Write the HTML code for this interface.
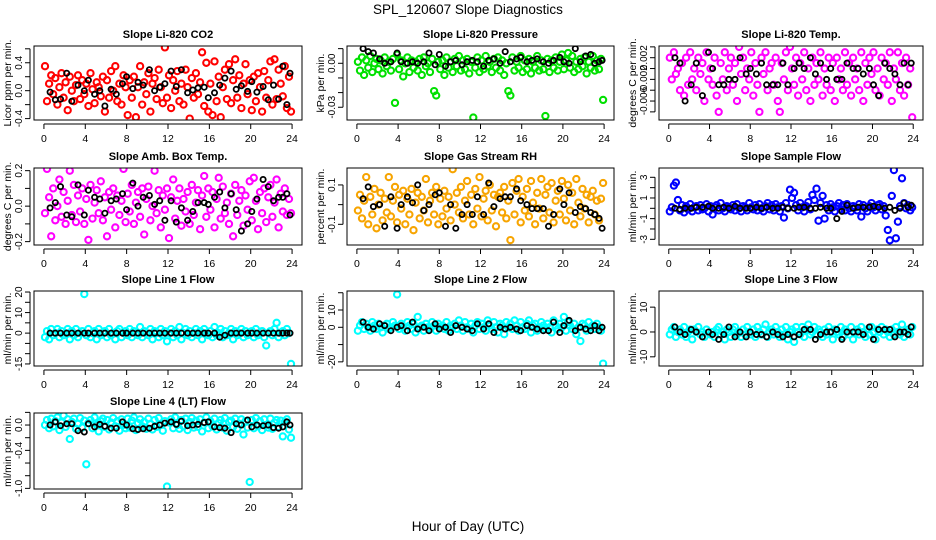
<!DOCTYPE html>
<html><head><meta charset="utf-8">
<style>
html,body{margin:0;padding:0;background:#fff;}
svg{display:block;font-family:"Liberation Sans",Arial,sans-serif;}
</style></head>
<body>
<svg id="chart" width="936" height="540" viewBox="0 0 936 540" xmlns="http://www.w3.org/2000/svg">
<rect width="936" height="540" fill="#fff"/>
<text x="468" y="14" text-anchor="middle" font-size="13.5">SPL_120607  Slope Diagnostics</text>
<text x="468" y="531" text-anchor="middle" font-size="13.5">Hour of Day (UTC)</text>
<g id="panels"></g>
</svg>
<script>
// shared hours for coloured series
const hours = [0.1,0.3,0.5,0.7,0.9,1.1,1.3,1.5,1.7,1.9,2.1,2.3,2.5,2.7,2.9,3.1,3.3,3.5,3.7,3.9,4.1,4.3,4.5,4.7,4.9,5.1,5.3,5.5,5.7,5.9,6.1,6.3,6.5,6.7,6.9,7.1,7.3,7.5,7.7,7.9,8.1,8.3,8.5,8.7,8.9,9.1,9.3,9.5,9.7,9.9,10.1,10.3,10.5,10.7,10.9,11.1,11.3,11.5,11.7,11.9,12.1,12.3,12.5,12.7,12.9,13.1,13.3,13.5,13.7,13.9,14.1,14.3,14.5,14.7,14.9,15.1,15.3,15.5,15.7,15.9,16.1,16.3,16.5,16.7,16.9,17.1,17.3,17.5,17.7,17.9,18.1,18.3,18.5,18.7,18.9,19.1,19.3,19.5,19.7,19.9,20.1,20.3,20.5,20.7,20.9,21.1,21.3,21.5,21.7,21.9,22.1,22.3,22.5,22.7,22.9,23.1,23.3,23.5,23.7,23.9];
// shared hours for black (reference) series
const blackHours = [0.6,1.1,1.6,2.2,2.7,3.3,3.9,4.3,4.9,5.4,5.9,6.5,7.0,7.6,8.0,8.6,9.1,9.6,10.2,10.7,11.2,11.7,12.3,12.8,13.3,13.9,14.4,14.9,15.5,15.9,16.5,17.0,17.5,18.1,18.6,19.1,19.7,20.1,20.6,21.2,21.7,22.2,22.7,23.1,23.5,23.8];
const xTicks = [0,4,8,12,16,20,24];

const co2 = [0.35,-0.15,0.1,0.22,-0.05,0.18,-0.2,0.05,0.25,-0.1,0.12,-0.28,0.2,0.0,-0.15,0.08,0.22,-0.12,0.15,-0.05,0.1,-0.22,0.25,0.02,-0.18,0.12,0.05,-0.08,0.2,-0.3,0.15,-0.1,0.28,0.0,0.35,-0.15,0.1,-0.2,0.22,0.05,-0.35,0.15,-0.1,0.2,-0.38,0.05,0.35,-0.2,0.12,-0.05,0.25,-0.3,0.1,0.18,-0.12,0.3,0.05,-0.18,0.62,-0.1,0.22,-0.25,0.15,0.0,0.28,-0.15,0.1,-0.2,0.3,0.05,-0.4,0.18,-0.1,0.25,-0.05,0.12,0.55,-0.22,0.4,-0.3,0.1,-0.35,0.42,-0.15,0.2,-0.38,0.05,0.3,-0.12,0.38,-0.18,0.15,0.45,-0.1,0.22,-0.25,0.1,0.38,-0.05,0.15,-0.28,0.2,-0.15,0.25,0.05,-0.3,0.28,-0.1,0.15,0.42,-0.2,0.45,-0.12,0.3,0.1,-0.08,0.35,-0.25,0.2,-0.3];
const co2Ref = [-0.02,-0.13,-0.12,0.25,-0.15,0.08,0.0,0.15,-0.05,0.0,-0.22,0.02,-0.05,0.1,0.2,0.03,0.12,0.08,0.3,0.0,0.05,0.1,0.28,0.06,0.3,-0.03,0.01,0.04,0.05,-0.1,-0.03,0.08,0.18,0.28,0.02,0.07,-0.01,0.13,-0.02,0.06,-0.13,0.08,-0.12,0.35,-0.2,0.25];

const pres = [0.001,-0.005,0.004,-0.008,0.002,-0.003,0.005,-0.006,0.0,0.003,-0.004,0.002,-0.007,0.004,-0.002,0.001,-0.005,0.003,-0.027,0.006,-0.004,0.002,-0.009,0.0,0.004,-0.006,0.002,-0.003,0.001,-0.005,0.003,-0.008,0.004,-0.002,0.0,-0.006,0.003,-0.019,-0.022,0.001,-0.004,0.002,-0.008,0.004,-0.003,0.001,-0.006,0.003,-0.002,0.005,-0.005,0.002,-0.004,0.003,-0.007,0.001,-0.037,-0.003,0.004,-0.006,0.002,-0.004,0.005,-0.002,0.001,-0.006,0.003,-0.003,0.004,-0.005,0.002,-0.008,0.0,-0.019,-0.022,0.004,-0.005,0.001,-0.003,0.005,-0.006,0.002,-0.004,0.003,-0.007,0.001,-0.003,0.005,-0.005,0.002,-0.004,-0.036,0.003,-0.006,0.002,-0.003,0.004,-0.005,0.001,0.006,-0.004,0.002,0.007,-0.003,0.005,-0.006,0.001,-0.004,0.003,-0.002,0.004,-0.007,0.001,-0.003,0.005,-0.005,0.002,-0.004,0.003,-0.025];
const presRef = [0.01,0.008,0.007,0.003,0.0,0.001,0.007,0.001,0.0,0.001,0.0,0.001,0.007,-0.001,0.006,-0.002,0.001,0.002,-0.001,0.001,0.002,0.001,-0.002,0.002,0.003,0.0,0.008,0.001,0.003,0.004,0.001,0.002,0.003,0.001,0.0,0.002,0.004,0.001,0.0,0.01,0.001,0.005,0.006,0.0,0.001,0.002];

const temp = [0.002,-0.002,0.003,-0.001,0.0,-0.004,0.001,-0.005,0.002,-0.003,0.003,-0.002,0.0,-0.004,0.002,-0.001,0.001,-0.006,0.003,-0.002,0.0,-0.003,0.002,-0.005,-0.008,0.001,-0.002,0.003,-0.004,0.0,0.002,-0.003,0.001,-0.006,0.004,-0.001,0.002,-0.004,0.0,-0.002,0.003,-0.005,0.001,-0.003,-0.008,0.002,-0.001,0.003,-0.004,0.0,0.001,-0.003,0.002,-0.006,-0.008,0.001,-0.002,0.003,-0.004,0.004,0.0,-0.003,0.002,-0.005,0.001,-0.002,0.003,-0.004,0.0,-0.006,0.002,-0.003,0.001,-0.002,0.003,-0.005,0.0,-0.003,0.002,-0.004,0.001,-0.006,0.002,-0.002,0.0,-0.004,0.003,-0.003,0.001,-0.005,0.002,-0.002,0.0,-0.004,0.003,-0.006,0.001,-0.003,0.002,-0.001,0.003,-0.004,0.0,-0.005,0.002,-0.002,0.001,-0.003,0.003,-0.006,0.0,-0.002,0.003,-0.004,0.001,-0.005,0.002,-0.003,0.0,-0.009];
const tempRef = [0.002,0.001,-0.006,-0.003,0.001,-0.005,0.003,0.0,-0.003,-0.003,-0.002,-0.002,0.002,-0.001,0.0,-0.001,0.001,-0.003,-0.003,-0.003,0.001,-0.003,0.0,0.001,0.0,0.002,-0.001,0.001,-0.002,0.0,-0.002,-0.002,0.001,0.0,0.0,-0.001,0.0,-0.003,-0.005,0.001,0.0,-0.001,-0.003,0.001,-0.003,0.001];

const boxT = [-0.04,0.21,0.05,-0.17,0.1,-0.08,0.0,0.15,-0.06,0.08,-0.1,0.03,0.2,-0.05,0.12,-0.09,0.06,-0.03,0.1,-0.1,0.04,-0.19,0.12,-0.07,0.02,0.09,-0.04,0.14,-0.08,0.05,-0.17,0.08,-0.02,0.1,-0.12,0.06,-0.05,0.03,0.21,-0.09,0.07,-0.03,0.12,-0.1,0.02,0.08,-0.06,0.1,-0.16,0.04,0.11,-0.08,0.0,0.2,-0.04,0.09,-0.12,0.06,-0.02,0.1,-0.18,0.05,0.15,-0.07,0.03,0.1,-0.11,0.04,-0.03,0.08,-0.1,0.12,-0.05,0.02,0.09,-0.13,0.06,0.17,-0.06,0.1,-0.02,0.08,-0.12,0.04,0.16,-0.07,0.11,-0.04,0.02,-0.1,0.07,-0.17,0.12,-0.05,0.03,0.09,-0.11,0.06,-0.02,0.14,-0.08,0.16,0.03,-0.13,0.08,-0.04,0.1,-0.09,0.05,0.12,-0.06,0.02,0.15,-0.12,0.07,-0.03,0.1,-0.05,0.04,-0.04];
const boxTRef = [-0.01,0.02,0.11,-0.05,-0.06,0.12,-0.05,0.09,0.05,0.04,-0.04,0.03,0.04,0.07,-0.02,0.13,0.0,0.05,0.06,0.01,0.03,-0.08,0.03,-0.09,-0.01,-0.08,-0.03,0.02,0.02,0.01,0.05,0.08,-0.01,0.07,-0.02,-0.14,-0.1,-0.03,0.04,0.15,0.11,0.03,0.05,0.05,0.07,-0.05];

const rh = [-0.03,0.05,-0.07,0.02,0.14,-0.1,0.04,-0.05,0.08,-0.12,0.0,0.06,-0.08,0.03,-0.04,0.14,-0.06,0.02,0.09,-0.09,0.05,-0.02,0.07,-0.1,0.03,-0.05,0.08,-0.13,0.01,0.06,-0.07,0.04,-0.03,0.13,-0.09,0.02,0.06,-0.05,0.09,-0.1,0.03,-0.06,0.07,-0.02,0.04,-0.08,0.18,0.0,0.06,-0.04,0.09,-0.07,0.02,0.12,-0.05,0.05,-0.1,0.08,-0.02,0.14,-0.06,0.03,0.07,-0.08,0.1,-0.03,0.05,-0.11,0.04,0.06,-0.04,0.09,-0.07,0.02,-0.18,0.11,-0.05,0.07,0.13,-0.09,0.04,-0.03,0.08,-0.06,0.12,0.01,-0.1,0.06,-0.02,0.13,-0.07,0.05,0.09,-0.04,0.11,-0.09,0.02,0.07,-0.05,0.12,0.03,-0.08,0.1,-0.03,0.06,-0.1,0.13,0.01,-0.06,0.08,-0.02,0.05,-0.09,0.04,0.07,-0.05,0.02,-0.08,0.03,0.11];
const rhRef = [0.03,0.09,-0.01,0.0,-0.11,0.04,-0.12,0.0,0.04,0.01,0.1,-0.03,0.0,0.05,0.06,-0.11,0.0,-0.12,-0.05,0.0,-0.05,0.04,-0.05,0.11,-0.01,0.03,0.04,0.04,0.08,0.02,0.0,-0.02,-0.02,-0.02,-0.11,-0.05,0.08,0.0,0.06,-0.04,-0.01,-0.02,-0.04,-0.05,-0.07,-0.12];

const sflow = [-0.3,0.1,2.2,2.5,0.8,-0.2,0.3,-0.4,0.2,-0.1,0.4,-0.3,0.1,0.2,-0.2,0.3,-0.1,0.0,0.4,-0.3,0.2,-0.6,0.1,0.3,-0.2,0.5,0.0,-0.3,0.2,0.1,-0.1,0.3,-0.2,0.4,0.0,-0.3,0.2,0.1,-0.2,0.5,0.1,-0.1,0.3,-0.2,0.4,0.0,-0.3,0.2,0.5,-0.1,0.3,-0.2,0.4,0.1,-0.3,0.2,-0.9,0.5,0.0,1.8,1.0,1.5,0.3,-0.2,0.5,0.1,-0.3,0.2,0.6,-0.1,1.3,0.8,1.9,-1.2,0.5,1.2,-1.0,0.3,-0.2,0.4,0.1,-0.3,0.2,0.5,-0.1,0.3,-0.2,0.4,0.0,-0.3,0.2,0.1,-0.2,0.4,-0.8,0.3,0.0,-0.3,0.2,0.5,0.1,-0.2,0.3,0.4,-0.1,0.2,-0.7,-2.1,-3.1,1.2,3.7,-2.9,-1.3,0.2,2.9,0.5,0.0,0.3,-0.2,0.1];
const sflowRef = [0.0,-0.1,0.0,0.0,0.1,0.1,0.2,0.0,0.0,0.1,0.0,0.2,0.0,0.0,0.0,0.1,0.0,0.1,0.0,0.0,0.1,0.0,0.0,0.1,0.1,0.0,0.0,0.1,0.0,0.0,-1.0,-0.3,0.3,0.0,0.1,0.1,0.1,0.2,0.1,0.0,0.1,-0.2,0.0,0.5,0.1,0.3];

const l1 = [-2,1,-3,2,-1,0,2,-2,1,-1,0,2,-3,1,-1,2,-2,0,1,19,-1,2,-2,0,1,-3,2,-1,0,1,-2,2,-1,0,-3,1,2,-2,0,1,-1,2,-2,1,0,-1,3,-2,1,0,-1,2,-3,1,0,-2,2,-1,1,-4,0,2,-2,1,-1,3,-3,0,2,-1,1,-2,0,2,-1,1,-3,2,0,-1,1,-2,3,-1,0,2,-2,1,-1,0,2,-3,1,-1,0,2,-2,1,-1,0,1,-2,2,-1,0,1,-2,-6,0,1,-1,2,5,-2,0,1,-1,2,0,-15];
const l1Ref = [0,0,0,0,0,0,0,0,0,0,0,0,0,0,0,0,0,0,0,0,0,0,0,0,0,0,0,0,0,0,0,-2,-1,0,0,0,0,0,0,0,0,0,0,0,0,0];

const l2 = [-2,1,3,-1,2,0,-2,3,1,-1,2,0,-3,1,2,-1,0,3,1,19,-1,2,0,-2,3,1,-1,2,-3,6,0,1,-2,2,0,-1,3,1,-2,2,0,1,-1,3,-2,1,0,2,-1,4,1,-2,3,0,-1,2,-3,1,3,-1,2,0,-2,4,1,-1,3,0,-3,2,1,-4,3,0,2,-1,4,1,-2,3,0,-1,2,4,-3,1,2,-2,0,3,1,-1,2,0,-3,4,1,-1,2,0,6,-2,3,1,-1,2,-4,0,-8,2,1,-2,3,0,1,-1,2,0,-2,-21];
const l2Ref = [3,0,-1,2,1,-2,0,1,-2,3,-1,0,-2,2,-1,0,-3,1,0,-1,-2,2,-1,2,-3,0,-1,0,-1,-2,1,0,-1,-2,-2,3,-3,1,4,-2,0,-1,-2,1,-2,0];

const l3 = [-1,1,2,-2,0,1,-1,2,-2,0,1,-3,1,0,2,-1,0,-2,1,18,-1,0,-2,1,2,-1,0,-3,1,0,-2,1,2,-1,0,-2,1,-1,2,0,-1,1,-2,2,0,-1,1,3,-2,0,1,-1,2,0,-2,1,-1,2,-3,0,1,-4,2,0,-1,2,-2,1,3,-1,0,2,-1,1,0,-2,1,-1,2,0,-3,1,0,-1,2,-2,1,0,-1,2,-3,0,1,-1,2,0,-2,1,-1,2,0,-3,1,0,2,-1,1,0,-2,1,-1,2,0,-1,3,-2,0,1,-1,2,-14];
const l3Ref = [2,0,-1,1,0,-2,0,-1,-3,-1,2,-2,0,-2,0,-1,-1,-2,0,-1,-2,-1,-2,-1,1,1,-3,-1,0,0,1,-3,0,0,0,-1,2,-3,1,1,1,-2,0,0,-1,2];

const l4 = [0.0,0.08,-0.05,0.1,-0.02,0.06,0.12,-0.08,0.04,0.15,-0.03,0.09,-0.22,0.05,0.1,-0.06,0.02,0.11,-0.04,0.07,-0.62,0.03,0.08,-0.05,0.12,0.0,-0.1,0.06,0.1,-0.03,0.08,-0.07,0.04,0.11,-0.02,0.06,-0.09,0.09,0.0,-0.05,0.1,-0.04,0.07,0.12,-0.08,0.03,0.09,-0.02,0.05,-0.06,0.1,0.02,-0.07,0.08,-0.03,0.11,0.0,-0.09,0.06,-0.97,0.04,0.09,-0.05,0.12,0.0,-0.06,0.08,-0.02,0.1,-0.08,0.05,0.11,-0.04,0.07,-0.03,0.09,-0.1,0.04,0.12,-0.05,0.06,-0.02,0.1,-0.07,0.03,0.08,-0.04,0.11,-0.09,0.05,0.07,-0.03,0.1,-0.06,0.02,0.09,-0.15,0.06,-0.04,-0.9,0.08,-0.05,0.11,-0.02,0.06,-0.08,0.09,0.0,-0.04,0.1,-0.06,0.04,0.08,-0.03,0.07,-0.18,0.05,0.09,-0.07,-0.2];
const l4Ref = [0.0,0.05,-0.01,0.02,0.02,-0.09,-0.11,0.02,-0.03,0.01,-0.02,-0.05,-0.05,0.05,0.0,-0.06,-0.07,-0.06,-0.05,-0.02,0.0,0.03,0.05,0.01,0.06,-0.01,0.0,0.01,0.04,0.05,-0.03,-0.04,-0.05,-0.12,0.02,0.0,0.08,-0.03,0.0,-0.01,0.0,-0.04,-0.05,-0.03,0.05,0.0];

// panel y-axis tick values & labels
const yTicks1 = [0.6,0.4,0.2,0,-0.2,-0.4];       const yLab1 = ["0.4","0.0","-0.4"];
const yTicks2 = [0.01,0,-0.01,-0.02,-0.03];      const yLab2 = ["0.00","-0.03"];
const yTicks3 = [0.004,0.002,0,-0.002,-0.004,-0.006,-0.008]; const yLab3 = ["0.002","-0.002","-0.006"];
const yTicks4 = [0.2,0.1,0,-0.1,-0.2];           const yLab4 = ["0.2","0.0","-0.2"];
const yTicks5 = [0.1,0,-0.1];                    const yLab5 = ["0.1","-0.1"];
const yTicks6 = [3,2,1,0,-1,-2,-3];              const yLab6 = ["3","1","-1","-3"];
const yTicks7 = [20,15,10,5,0,-5,-10,-15];       const yLab7 = ["20","10","0","-15"];
const yTicks8 = [20,10,0,-10,-20];               const yLab8 = ["10","0","-20"];
const yTicks9 = [10,0,-10];                      const yLab9 = ["10","0","-10"];
const yTicks10 = [0.2,0,-0.2,-0.4,-0.6,-0.8,-1.0]; const yLab10 = ["0.0","-0.4","-1.0"];

const panels = [
 {id:'co2',title:'Slope Li-820 CO2',ylab:'Licor ppm per min.',c:0,r:0,ymin:-0.42,ymax:0.64,col:'#ff0000',v:co2,ref:co2Ref,t:yTicks1,l:yLab1},
 {id:'pressure',title:'Slope Li-820 Pressure',ylab:'kPa per min.',c:1,r:0,ymin:-0.0387,ymax:0.0118,col:'#00e000',v:pres,ref:presRef,t:yTicks2,l:yLab2},
 {id:'temp',title:'Slope Li-820 Temp.',ylab:'degrees C per min.',c:2,r:0,ymin:-0.0095,ymax:0.00416,col:'#ff00ff',v:temp,ref:tempRef,t:yTicks3,l:yLab3},
 {id:'box-temp',title:'Slope Amb. Box Temp.',ylab:'degrees C per min.',c:0,r:1,ymin:-0.219,ymax:0.215,col:'#ff00ff',v:boxT,ref:boxTRef,t:yTicks4,l:yLab4},
 {id:'gas-rh',title:'Slope Gas Stream RH',ylab:'percent per min.',c:1,r:1,ymin:-0.205,ymax:0.186,col:'#f7a400',v:rh,ref:rhRef,t:yTicks5,l:yLab5},
 {id:'sample-flow',title:'Slope Sample Flow',ylab:'ml/min per min.',c:2,r:1,ymin:-3.55,ymax:3.9,col:'#0000ff',v:sflow,ref:sflowRef,t:yTicks6,l:yLab6},
 {id:'line1-flow',title:'Slope Line 1 Flow',ylab:'ml/min per min.',c:0,r:2,ymin:-16,ymax:20.5,col:'#00ffff',v:l1,ref:l1Ref,t:yTicks7,l:yLab7},
 {id:'line2-flow',title:'Slope Line 2 Flow',ylab:'ml/min per min.',c:1,r:2,ymin:-22.4,ymax:21,col:'#00ffff',v:l2,ref:l2Ref,t:yTicks8,l:yLab8},
 {id:'line3-flow',title:'Slope Line 3 Flow',ylab:'ml/min per min.',c:2,r:2,ymin:-13.7,ymax:16.5,col:'#00ffff',v:l3,ref:l3Ref,t:yTicks9,l:yLab9},
 {id:'line4-flow',title:'Slope Line 4 (LT) Flow',ylab:'ml/min per min.',c:0,r:3,ymin:-1.01,ymax:0.19,col:'#00ffff',v:l4,ref:l4Ref,t:yTicks10,l:yLab10}
];
const colX = [[34,302],[347,614],[659,923]];
const rowY = [[46,120],[168,245],[291,366],[413,489]];
const NS = 'http://www.w3.org/2000/svg';
const root = document.getElementById('panels');
function mk(tag, attrs, parent){const e=document.createElementNS(NS,tag);for(const k in attrs)e.setAttribute(k,attrs[k]);parent.appendChild(e);return e;}
function fmtEq(a,b){return Math.abs(parseFloat(a)-b)<1e-9;}

panels.forEach(p=>{
  const [x0,x1]=colX[p.c], [y0,y1]=rowY[p.r];
  const xs = h => x0 + (h - (-0.96)) / 25.92 * (x1 - x0);
  const ys = v => y1 - (v - p.ymin) / (p.ymax - p.ymin) * (y1 - y0);
  const g = mk('g',{},root);
  
  
  const clipId='clip-'+p.id;
  const cp=mk('clipPath',{id:clipId},g); mk('rect',{x:x0,y:y0,width:x1-x0,height:y1-y0},cp);
  const t=mk('text',{x:(x0+x1)/2,y:y0-8,'text-anchor':'middle','font-size':11,'font-weight':'bold'},g);
  t.textContent=p.title;
  
  
  const pts=mk('g',{'clip-path':'url(#'+clipId+')',fill:'none','stroke-width':2.1},g);
  
  
  p.v.forEach((v,i)=>{
    if(i>=hours.length)return;
    const c=mk('circle',{cx:xs(hours[i]).toFixed(1),cy:ys(v).toFixed(1),r:3.1,stroke:p.col},pts);
    
    
  });
  const refg=mk('g',{'clip-path':'url(#'+clipId+')',fill:'none','stroke-width':1.8,stroke:'#000'},g);
  
  
  p.ref.forEach((v,i)=>{
    if(i>=blackHours.length)return;
    const c=mk('circle',{cx:xs(blackHours[i]).toFixed(1),cy:ys(v).toFixed(1),r:2.6},refg);
    
    
  });
  const box=mk('rect',{x:x0,y:y0,width:x1-x0,height:y1-y0,fill:'none',stroke:'#000','stroke-width':1},g);
  
  
  const xa=mk('g',{stroke:'#000','stroke-width':1},g);
  
  
  mk('line',{x1:xs(0),x2:xs(24),y1:y1+4,y2:y1+4},xa);
  xTicks.forEach(h=>{
    mk('line',{x1:xs(h),x2:xs(h),y1:y1+4,y2:y1+9},xa);
    const tl=mk('text',{x:xs(h),y:y1+22,'text-anchor':'middle','font-size':10.5,stroke:'none',fill:'#000'},xa);
    tl.textContent=String(h);
    
    
  });
  const ya=mk('g',{stroke:'#000','stroke-width':1},g);
  
  
  const ax=x0-4;
  const tmin=Math.min(...p.t), tmax=Math.max(...p.t);
  mk('line',{x1:ax,x2:ax,y1:ys(tmax),y2:ys(tmin)},ya);
  p.t.forEach(v=>{
    const yy=ys(v);
    mk('line',{x1:ax-5,x2:ax,y1:yy,y2:yy},ya);
    const lab=p.l.find(s=>fmtEq(s,v));
    if(lab!==undefined){
      const tl=mk('text',{x:ax-8,y:yy,'text-anchor':'middle','font-size':10,stroke:'none',fill:'#000',transform:'rotate(-90 '+(ax-8)+' '+yy+')'},ya);
      tl.textContent=lab;
      
      
    }
  });
  const yl=mk('text',{x:x0-23,y:(y0+y1)/2,'text-anchor':'middle','font-size':10.5,transform:'rotate(-90 '+(x0-23)+' '+((y0+y1)/2)+')'},g);
  yl.textContent=p.ylab;
  
  
});
</script>
</body></html>
